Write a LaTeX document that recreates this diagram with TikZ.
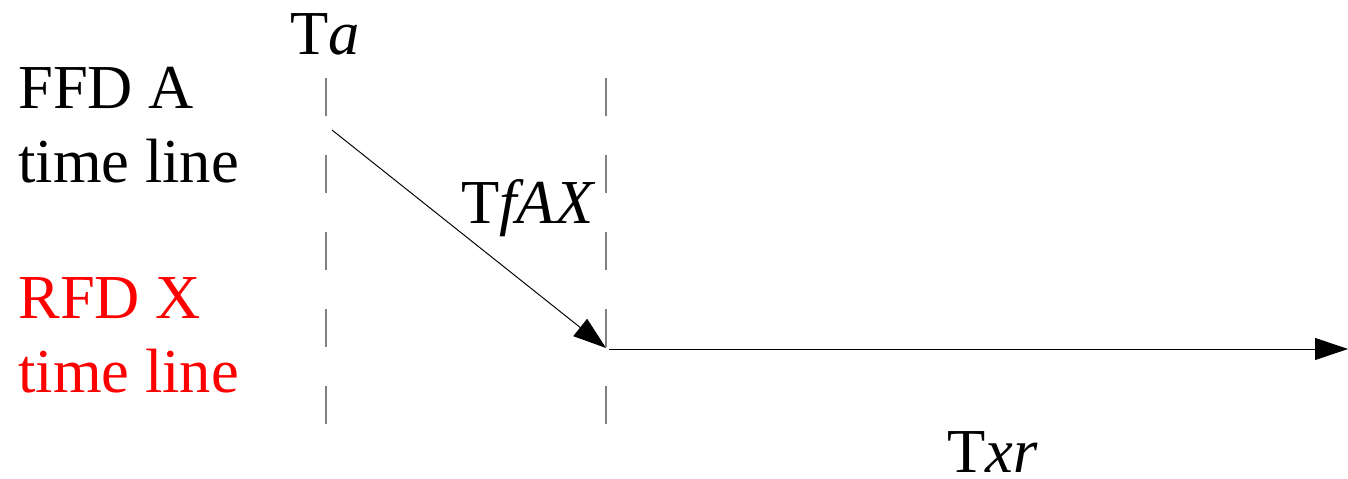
\documentclass[tikz,border=0pt]{standalone}
\usepackage{fontspec}
\setmainfont{Liberation Serif}
\usetikzlibrary{arrows.meta,positioning,calc}
\definecolor{Rojo}{HTML}{FF0000}
\definecolor{Guia}{HTML}{808080}

\begin{document}
\begin{tikzpicture}[x=0.02cm,y=-0.02cm,
    every node/.style={inner sep=0pt,font=\fontsize{35.6}{42.1}\selectfont},
    guia/.style={Guia,line width=0.7pt,dash pattern=on 0.76cm off 0.78cm},
    flecha/.style={-{Triangle[length=0.66cm,width=0.44cm]},line width=0.55pt,black}]
        \useasboundingbox (0,0) rectangle (1348,479);
        % etiquetas de las lineas de tiempo
        \node[anchor=north west,align=left] (ffd) at (18,67) {FFD A\\time line};
        \node[anchor=north west,align=left,text=Rojo] (rfd) at (18,277) {RFD X\\time line};
        % tiempos
        \node[anchor=base west] (ta) at (290,55) {T\textit{a}};
        \node[anchor=base west] (tfax) at (461,224) {T\textit{fAX}};
        \node[anchor=base west] (txr) at (947,472) {T\textit{xr}};
        % guias verticales
        \coordinate (g1a) at (326,78);
        \coordinate (g1b) at (326,424);
        \coordinate (g2a) at (606,78);
        \coordinate (g2b) at (606,424);
        \draw[guia] (g1a) -- (g1b);
        \draw[guia] (g2a) -- (g2b);
        % envio y espera
        \coordinate (envio) at (332,130);
        \coordinate (llegada) at (606,348);
        \coordinate (inicio) at (609,349);
        \coordinate (fin) at (1348,349);
        \draw[flecha] (envio) -- (llegada);
        \draw[flecha] (inicio) -- (fin);
      \end{tikzpicture}
\end{document}
